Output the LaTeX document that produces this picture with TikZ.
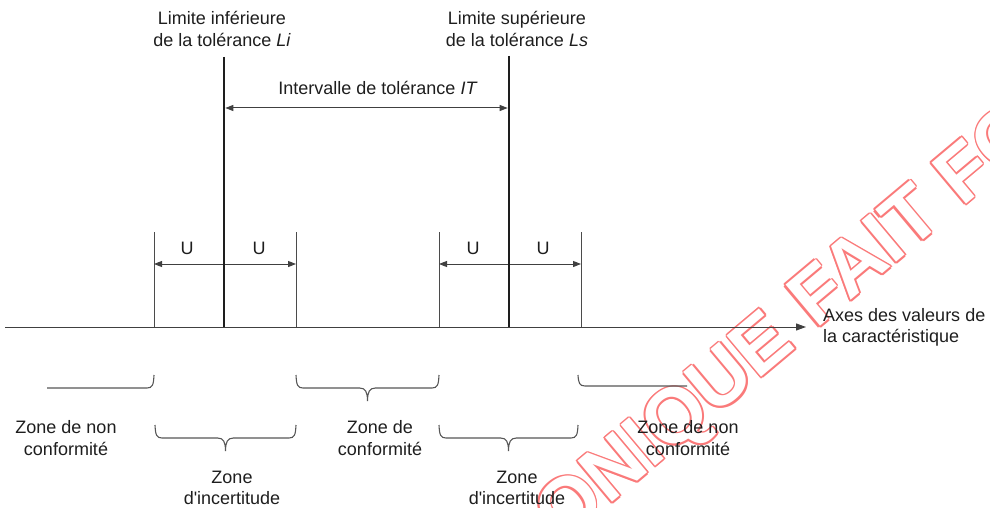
\documentclass[tikz,border=0pt]{standalone}
\usepackage{fontspec}
\setmainfont{Liberation Sans}
\usetikzlibrary{arrows.meta}

\definecolor{ink}{RGB}{30,30,30}
\definecolor{wmred}{RGB}{250,122,122}

\tikzset{
  lbl/.style={text=ink, font=\fontsize{18}{21.5}\selectfont, align=center, inner sep=0pt},
  limitline/.style={draw=ink, line width=2.6pt},
  thinline/.style={draw=ink!80, line width=1pt},
  tipU/.style={-{Triangle[length=8pt,width=6pt]}},
  dimline/.style={draw=ink!85, line width=1pt},
  axisline/.style={draw=ink!85, line width=1pt, -{Triangle[length=10pt,width=7pt]}},
  bracepath/.style={draw=ink!75, line width=1.1pt},
  wm/.style={font=\fontsize{78}{78}\selectfont\bfseries, rotate=40, inner sep=0pt},
}

% curly brace between x=#1 and x=#2, bar at y=#3, tip pointing down
\newcommand{\fullbrace}[3]{%
  \pgfmathsetmacro{\brmid}{(#1+#2)/2}
  \draw[bracepath] (#1,#3-13) .. controls (#1+0.5,#3-3) and (#1+1.5,#3) .. (#1+7,#3)
    -- (\brmid-8,#3) .. controls (\brmid-2,#3) and (\brmid,#3+4) .. (\brmid,#3+13)
    .. controls (\brmid,#3+4) and (\brmid+2,#3) .. (\brmid+8,#3)
    -- (#2-7,#3) .. controls (#2-1.5,#3) and (#2-0.5,#3-3) .. (#2,#3-13);
}

\begin{document}
\begin{tikzpicture}[x=1pt,y=-1pt]
\useasboundingbox (0,0) rectangle (990,508);

% ---- outlined watermark stamp ----
\begin{scope}
  \clip (0,0) rectangle (990,508);
  \coordinate (wmA) at (798,347);
  \coordinate (wmB) at (816,330);
  \foreach \a in {0,45,...,315}{
    \node[wm, text=wmred, anchor=base east] (wmA\a) at ([shift={(\a:1.7pt)}]wmA) {VERSION ÉLECTRONIQUE};
    \node[wm, text=wmred, anchor=base west] (wmB\a) at ([shift={(\a:1.7pt)}]wmB) {FAIT FOI};
  }
  \node[wm, text=white, anchor=base east] (wmAw) at (wmA) {VERSION ÉLECTRONIQUE};
  \node[wm, text=white, anchor=base west] (wmBw) at (wmB) {FAIT FOI};
\end{scope}

% ---- axis of values ----
\coordinate (ax0) at (5,327);
\coordinate (ax1) at (806,327);
\draw[axisline] (ax0) -- (ax1);
\node[lbl, anchor=west, align=left] (axlbl) at (823,327.5) {Axes des valeurs de\\la caractéristique};

% ---- uncertainty bounds ----
\foreach \n/\x in {v1/154, v2/296, v3/439, v4/581}{
  \coordinate (\n t) at (\x,232);
  \coordinate (\n b) at (\x,327);
  \draw[thinline] (\n t) -- (\n b);
}

% ---- tolerance interval arrow ----
\coordinate (itL) at (224,108);
\coordinate (itR) at (509,108);
\draw[dimline, {Triangle[length=8pt,width=6pt]}-{Triangle[length=8pt,width=6pt]}, shorten <=1.3pt, shorten >=1.3pt] (itL) -- (itR);
\node[lbl] (itlbl) at (378,88) {Intervalle de tolérance \textit{IT}};

% ---- U arrows ----
\coordinate (uLc) at (224,264);
\coordinate (uLl) at (154,264);
\coordinate (uLr) at (296,264);
\coordinate (uSc) at (509,264);
\coordinate (uSl) at (439,264);
\coordinate (uSr) at (581,264);
\draw[dimline, tipU] (uLc) -- (uLl);
\draw[dimline, tipU] (uLc) -- (uLr);
\draw[dimline, tipU] (uSc) -- (uSl);
\draw[dimline, tipU] (uSc) -- (uSr);
\node[lbl] (u1) at (187,248) {U};
\node[lbl] (u2) at (259,248) {U};
\node[lbl] (u3) at (473,248) {U};
\node[lbl] (u4) at (543,248) {U};

% ---- tolerance limits ----
\coordinate (liT) at (224,57);
\coordinate (liB) at (224,327);
\coordinate (lsT) at (509,56);
\coordinate (lsB) at (509,327);
\draw[limitline] (liT) -- (liB);
\draw[limitline] (lsT) -- (lsB);
\node[lbl] (lilbl) at (222,29) {Limite inférieure\\de la tolérance \textit{Li}};
\node[lbl] (lslbl) at (517,29) {Limite supérieure\\de la tolérance \textit{Ls}};

% ---- zone braces ----
\draw[bracepath] (47,388) -- (147,388) .. controls (152.5,388) and (153.5,385) .. (154,375);
\fullbrace{296}{439}{388}
\draw[bracepath] (578,375) .. controls (578.5,383) and (579.5,386) .. (585,386) -- (687,386);
\fullbrace{155}{296}{438}
\fullbrace{439}{578}{438}

% ---- zone labels ----
\node[lbl] (z1) at (66,438) {Zone de non\\conformité};
\node[lbl] (z2) at (380,438) {Zone de\\conformité};
\node[lbl] (z3) at (688,438) {Zone de non\\conformité};
\node[lbl] (z4) at (232,488) {Zone\\d\textquotesingle incertitude};
\node[lbl] (z5) at (517,488) {Zone\\d\textquotesingle incertitude};
\end{tikzpicture}
\end{document}
